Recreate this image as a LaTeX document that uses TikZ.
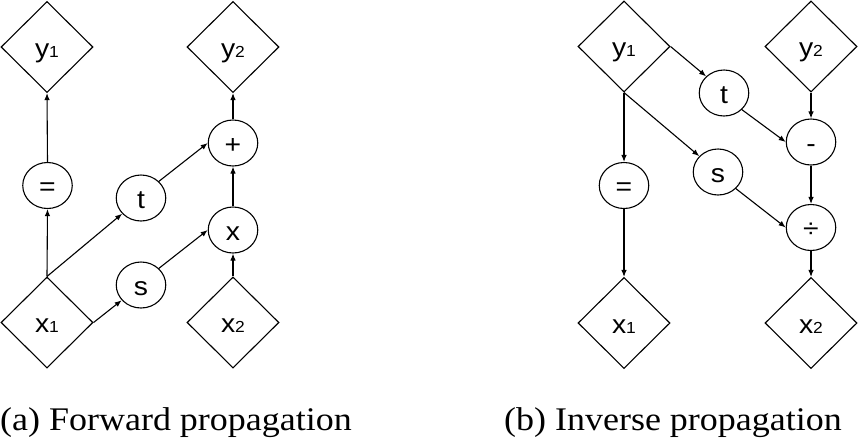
\documentclass[tikz,border=0pt]{standalone}
\usepackage{fontspec}
\setmainfont[FakeStretch=1.09]{Liberation Serif}
\newfontfamily\labfont[FakeStretch=1.09]{Liberation Sans}
\usetikzlibrary{shapes.geometric,arrows.meta}
\newcommand{\mysub}[2]{{\fontsize{26}{26}\selectfont #1}{\fontsize{16}{16}\selectfont #2}}
\begin{document}
\begin{tikzpicture}[x=1pt,y=-1pt,
  var/.style={draw,diamond,minimum width=92pt,minimum height=91pt,inner sep=0pt,line width=1.1pt,font=\labfont\fontsize{26}{26}\selectfont,text height=22pt,text depth=2pt},
  op/.style={draw,ellipse,minimum width=49.5pt,minimum height=46pt,inner sep=0pt,line width=1.1pt,font=\labfont\fontsize{26}{26}\selectfont,text height=22pt,text depth=2pt},
  arr/.style={line width=1.1pt,-{Latex[length=7pt,width=5.5pt]}},
  captext/.style={inner sep=0pt,anchor=base west,font=\fontsize{33}{38}\selectfont}]
\useasboundingbox (0,0) rectangle (858,440);
% (a) forward
\node[var] (y1L) at (47,47) {\mysub{y}{1}};
\node[var] (y2L) at (233,47) {\mysub{y}{2}};
\node[var] (x1L) at (47,322.5) {\mysub{x}{1}};
\node[var] (x2L) at (233,322.5) {\mysub{x}{2}};
\node[op] (eqL) at (47.5,185.5) {=};
\node[op] (tL) at (141,198) {t};
\node[op] (sL) at (141,285) {s};
\node[op] (plusL) at (233,143) {+};
\node[op] (mulL) at (233,230) {x};
\draw[arr] (x1L.north) -- (eqL.south);
\draw[arr] (eqL.north) -- (y1L.south);
\draw[arr] (x1L.north) -- (tL);
\draw[arr] (x1L.east) -- (sL);
\draw[arr] (sL.north east) -- (mulL.west);
\draw[arr] (tL.north east) -- (plusL.west);
\draw[arr] (x2L.north) -- (mulL.south);
\draw[arr] (mulL.north) -- (plusL.south);
\draw[arr] (plusL.north) -- (y2L.south);
% (b) inverse
\node[var] (y1R) at (624,46.5) {\mysub{y}{1}};
\node[var] (y2R) at (811,46.5) {\mysub{y}{2}};
\node[var] (x1R) at (624,323) {\mysub{x}{1}};
\node[var] (x2R) at (811,323) {\mysub{x}{2}};
\node[op] (eqR) at (624,185.5) {=};
\node[op] (tR) at (724,93) {t};
\node[op] (sR) at (718,172) {s};
\node[op] (minusR) at (811,142) {-};
\node[op] (divR) at (811,227.5) {÷};
\draw[arr] (y1R.east) -- (tR.north west);
\draw[arr] (y1R.south) -- (sR);
\draw[arr] (y1R.south) -- (eqR.north);
\draw[arr] (eqR.south) -- (x1R.north);
\draw[arr] (tR.south east) -- (minusR.west);
\draw[arr] (sR.south east) -- (divR.west);
\draw[arr] (y2R.south) -- (minusR.north);
\draw[arr] (minusR.south) -- (divR.north);
\draw[arr] (divR.south) -- (x2R.north);
% captions
\node[captext] (capa) at (0,430) {(a) Forward propagation};
\node[captext] (capb) at (504,430) {(b) Inverse propagation};
\end{tikzpicture}
\end{document}
